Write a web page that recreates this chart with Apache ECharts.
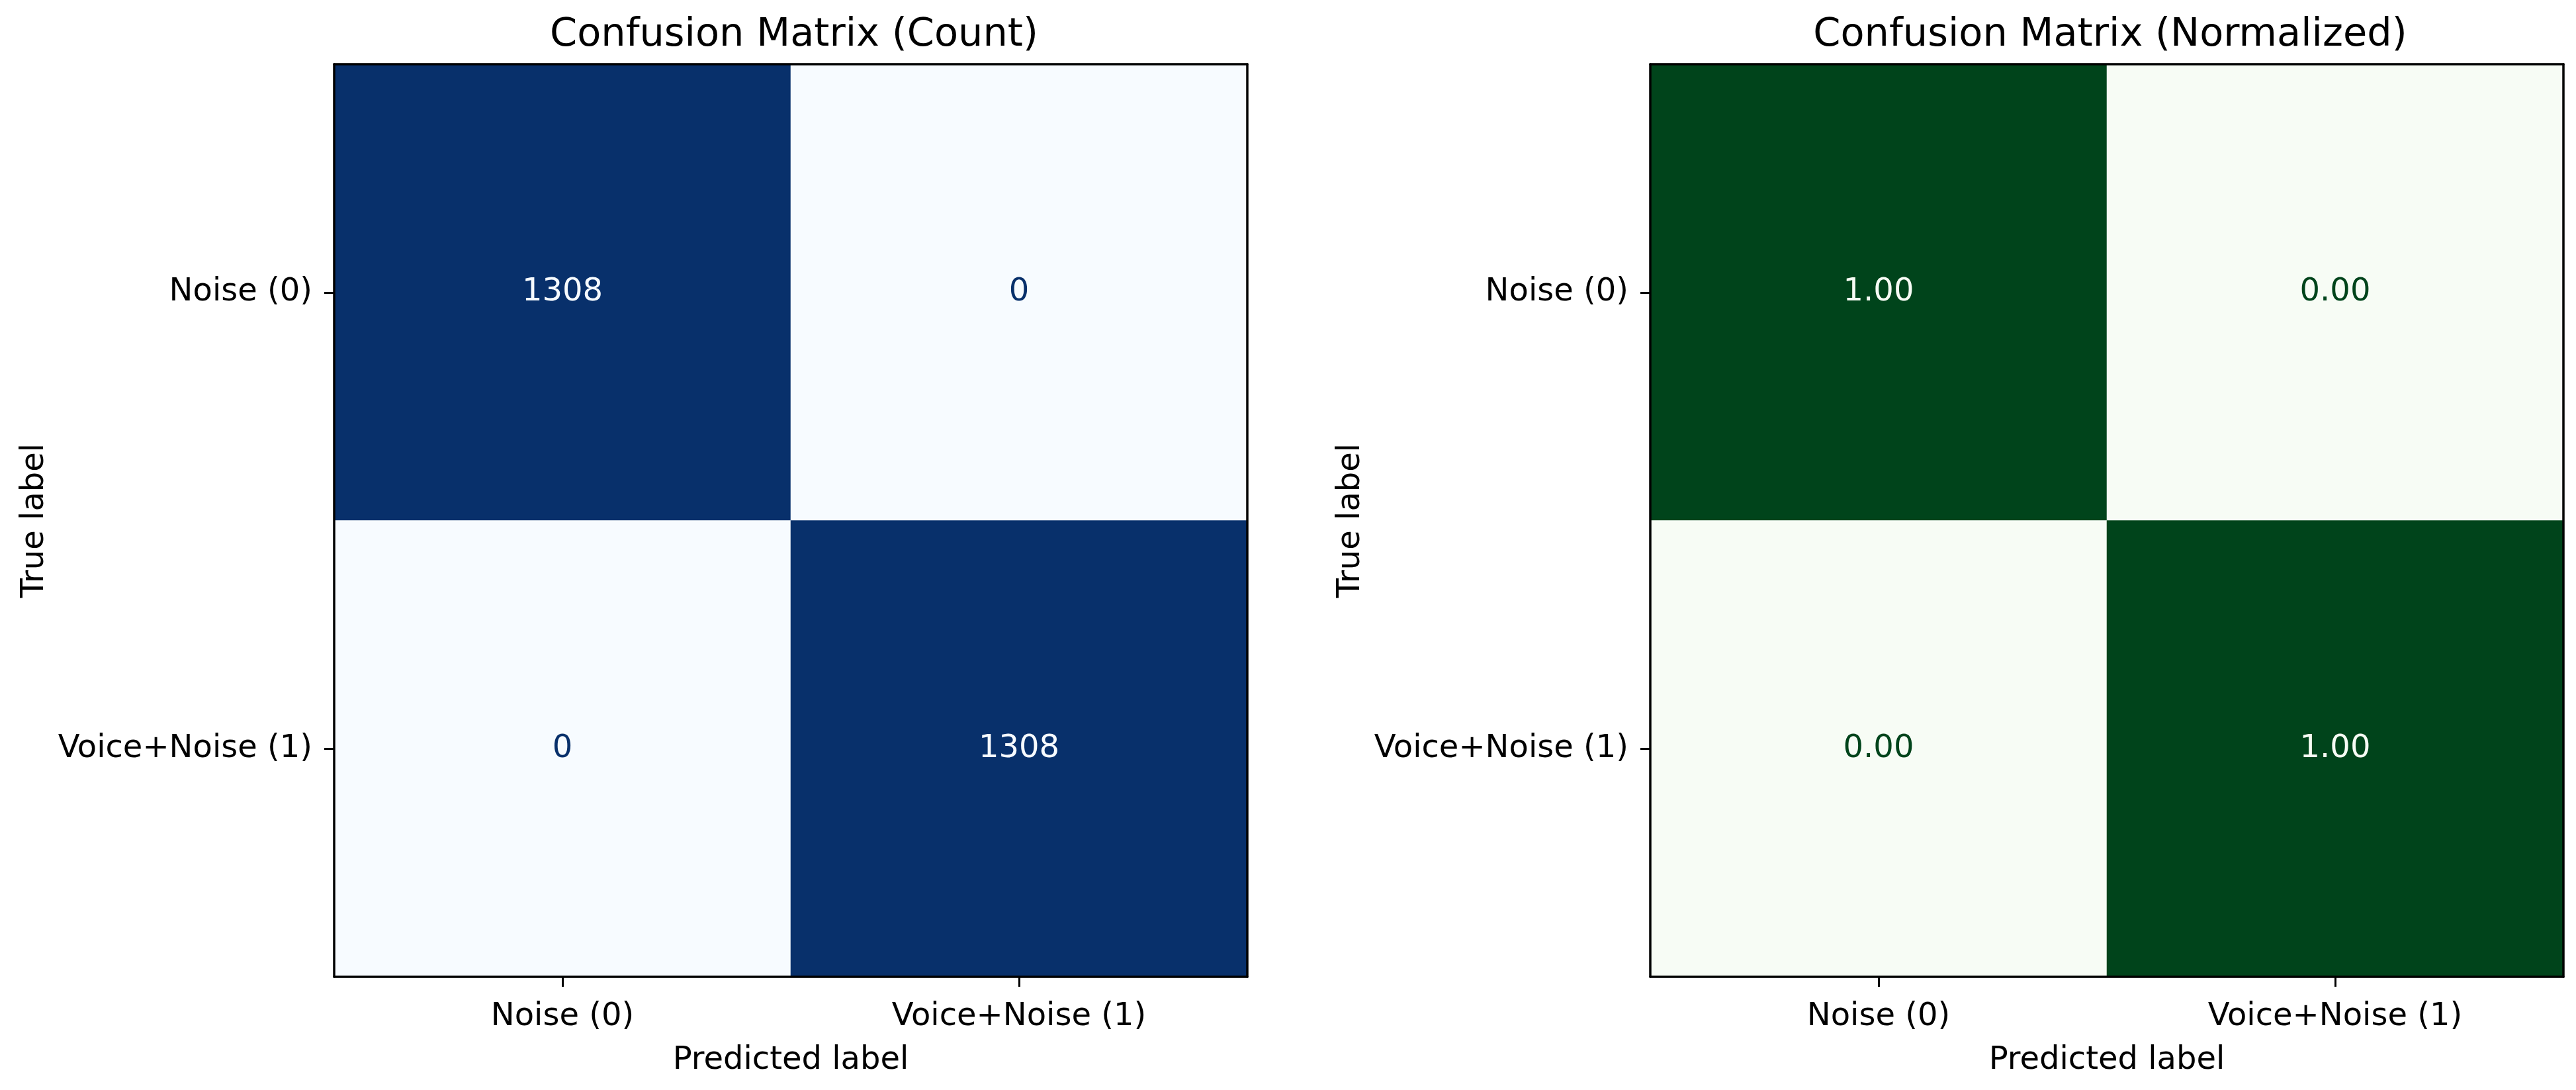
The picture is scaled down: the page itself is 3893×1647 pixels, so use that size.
<!DOCTYPE html>
<html>
<head>
<meta charset="utf-8">
<title>Confusion Matrix</title>
<script src="https://cdn.jsdelivr.net/npm/echarts@6/dist/echarts.min.js"></script>
<style>
  html, body { margin: 0; padding: 0; background: #fff; }
  #chart { width: 3893px; height: 1647px; }
</style>
</head>
<body>
<div id="chart"></div>
<script>
// 类别与数据
const classLabels = ['Noise (0)', 'Voice+Noise (1)'];
// 行 = 真实标签, 列 = 预测标签
const countMatrix = [
    [1308, 0],
    [0, 1308]
];
const normMatrix = [
    [1.00, 0.00],
    [0.00, 1.00]
];
const panelTitles = ['Confusion Matrix (Count)', 'Confusion Matrix (Normalized)'];
const xAxisName = 'Predicted label';
const yAxisName = 'True label';

// 色带端点 (matplotlib Blues / Greens)
const bluesRange = ['#f7fbff', '#08306b'];
const greensRange = ['#f7fcf5', '#00441b'];

const FONT = 'DejaVu Sans';
const gridLefts = [505, 2494];
const GRID_TOP = 97;
const GRID_SIZE = 1380;

function buildCells(matrix, range, digits) {
    const flat = matrix.flat();
    const vmin = Math.min(...flat);
    const vmax = Math.max(...flat);
    const thresh = (vmin + vmax) / 2;
    const cells = [];
    matrix.forEach((row, i) => {
        row.forEach((v, j) => {
            cells.push({
                value: [j, i, v],
                label: {
                    color: v > thresh ? range[0] : range[1],
                    formatter: () => digits === 0 ? String(v) : v.toFixed(digits)
                }
            });
        });
    });
    return { cells, vmin, vmax };
}

const panels = [
    { matrix: countMatrix, range: bluesRange, digits: 0 },
    { matrix: normMatrix, range: greensRange, digits: 2 }
].map(p => Object.assign(p, buildCells(p.matrix, p.range, p.digits)));

const chart = echarts.init(document.getElementById('chart'), null, { renderer: 'canvas' });

const lineStyle = { color: '#000', width: 3.5 };

const option = {
    backgroundColor: '#fff',
    textStyle: { fontFamily: FONT },
    animation: false,
    title: panelTitles.map((t, k) => ({
        text: t,
        left: gridLefts[k] + GRID_SIZE / 2,
        textAlign: 'center',
        top: 19,
        textStyle: { fontFamily: FONT, fontSize: 59, fontWeight: 'normal', color: '#000' }
    })),
    grid: gridLefts.map(left => ({
        left: left,
        top: GRID_TOP,
        width: GRID_SIZE,
        height: GRID_SIZE - 1,
        containLabel: false
    })),
    visualMap: panels.map((p, k) => ({
        show: false,
        type: 'continuous',
        seriesIndex: k,
        dimension: 2,
        min: p.vmin,
        max: p.vmax,
        inRange: { color: p.range }
    })),
    xAxis: [].concat(...gridLefts.map((_, k) => [
        {
            type: 'category',
            gridIndex: k,
            data: classLabels,
            position: 'bottom',
            z: 10,
            name: xAxisName,
            nameLocation: 'middle',
            nameGap: 103,
            nameTextStyle: { fontFamily: FONT, fontSize: 48, color: '#000' },
            axisLine: { show: true, lineStyle: lineStyle },
            axisTick: { show: true, alignWithLabel: true, length: 15, lineStyle: { color: '#000', width: 3 } },
            axisLabel: { fontFamily: FONT, fontSize: 48, color: '#000', margin: 37 },
            splitLine: { show: false },
            splitArea: { show: false }
        },
        {
            type: 'category',
            gridIndex: k,
            data: classLabels,
            position: 'top',
            z: 10,
            axisLine: { show: true, lineStyle: lineStyle },
            axisTick: { show: false },
            axisLabel: { show: false },
            splitLine: { show: false }
        }
    ])),
    yAxis: [].concat(...gridLefts.map((_, k) => [
        {
            type: 'category',
            gridIndex: k,
            data: classLabels,
            inverse: true,
            position: 'left',
            z: 10,
            name: yAxisName,
            nameLocation: 'middle',
            nameGap: 428,
            nameTextStyle: { fontFamily: FONT, fontSize: 48, color: '#000' },
            axisLine: { show: true, lineStyle: lineStyle },
            axisTick: { show: true, alignWithLabel: true, length: 15, lineStyle: { color: '#000', width: 3 } },
            axisLabel: { fontFamily: FONT, fontSize: 48, color: '#000', margin: 33 },
            splitLine: { show: false },
            splitArea: { show: false }
        },
        {
            type: 'category',
            gridIndex: k,
            data: classLabels,
            inverse: true,
            position: 'right',
            z: 10,
            axisLine: { show: true, lineStyle: lineStyle },
            axisTick: { show: false },
            axisLabel: { show: false },
            splitLine: { show: false }
        }
    ])),
    series: panels.map((p, k) => ({
        type: 'heatmap',
        xAxisIndex: k * 2,
        yAxisIndex: k * 2,
        data: p.cells,
        label: {
            show: true,
            fontFamily: FONT,
            fontSize: 48
        },
        itemStyle: { borderWidth: 0 },
        emphasis: { disabled: true }
    }))
};

chart.setOption(option);
window.addEventListener('resize', () => chart.resize());
</script>
</body>
</html>
